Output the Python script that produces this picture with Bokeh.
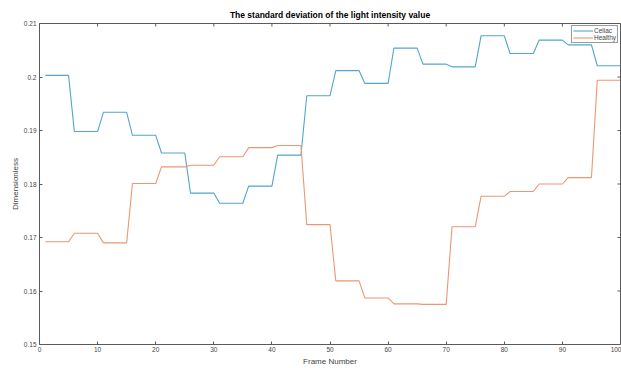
import math
from bokeh.plotting import figure
from bokeh.models import FixedTicker, CustomJSTickFormatter, Legend, LegendItem, Range1d
from bokeh.embed import file_html
from bokeh.resources import INLINE

title_text = "The standard deviation of the light intensity value"
x_label = "Frame Number"
y_label = "Dimensionless"
series_names = ["Celiac", "Healthy"]

frames = list(range(1, 101))

celiac = [
    0.2003, 0.2003, 0.2003, 0.2003, 0.2003,
    0.1898, 0.1898, 0.1898, 0.1898, 0.1898,
    0.1934, 0.1934, 0.1934, 0.1934, 0.1934,
    0.1891, 0.1891, 0.1891, 0.1891, 0.1891,
    0.1858, 0.1858, 0.1858, 0.1858, 0.1858,
    0.1783, 0.1783, 0.1783, 0.1783, 0.1783,
    0.1764, 0.1764, 0.1764, 0.1764, 0.1764,
    0.1796, 0.1796, 0.1796, 0.1796, 0.1796,
    0.1854, 0.1854, 0.1854, 0.1854, 0.1854,
    0.1965, 0.1965, 0.1965, 0.1965, 0.1965,
    0.2012, 0.2012, 0.2012, 0.2012, 0.2012,
    0.1988, 0.1988, 0.1988, 0.1988, 0.1988,
    0.2054, 0.2054, 0.2054, 0.2054, 0.2054,
    0.2024, 0.2024, 0.2024, 0.2024, 0.2024,
    0.2019, 0.2019, 0.2019, 0.2019, 0.2019,
    0.2077, 0.2077, 0.2077, 0.2077, 0.2077,
    0.2044, 0.2044, 0.2044, 0.2044, 0.2044,
    0.2069, 0.2069, 0.2069, 0.2069, 0.2069,
    0.2060, 0.2060, 0.2060, 0.2060, 0.2060,
    0.2021, 0.2021, 0.2021, 0.2021, 0.2021,
]

healthy = [
    0.1692, 0.1692, 0.1692, 0.1692, 0.1692,
    0.1708, 0.1708, 0.1708, 0.1708, 0.1708,
    0.1690, 0.1690, 0.1690, 0.1690, 0.1690,
    0.1801, 0.1801, 0.1801, 0.1801, 0.1801,
    0.1832, 0.1832, 0.1832, 0.1832, 0.1832,
    0.1835, 0.1835, 0.1835, 0.1835, 0.1835,
    0.1851, 0.1851, 0.1851, 0.1851, 0.1851,
    0.1868, 0.1868, 0.1868, 0.1868, 0.1868,
    0.1872, 0.1872, 0.1872, 0.1872, 0.1872,
    0.1724, 0.1724, 0.1724, 0.1724, 0.1724,
    0.1619, 0.1619, 0.1619, 0.1619, 0.1619,
    0.1587, 0.1587, 0.1587, 0.1587, 0.1587,
    0.1576, 0.1576, 0.1576, 0.1576, 0.1576,
    0.1575, 0.1575, 0.1575, 0.1575, 0.1575,
    0.1720, 0.1720, 0.1720, 0.1720, 0.1720,
    0.1777, 0.1777, 0.1777, 0.1777, 0.1777,
    0.1786, 0.1786, 0.1786, 0.1786, 0.1786,
    0.1800, 0.1800, 0.1800, 0.1800, 0.1800,
    0.1812, 0.1812, 0.1812, 0.1812, 0.1812,
    0.1994, 0.1994, 0.1994, 0.1994, 0.1994,
]

x_ticks = [0, 10, 20, 30, 40, 50, 60, 70, 80, 90, 100]
y_ticks = [0.15, 0.16, 0.17, 0.18, 0.19, 0.20, 0.21]

FONT = "Liberation Sans"
AX = "#5a5a5a"
BLUE = "#52a6cd"
ORANGE = "#ea9873"

X0, X1 = 0, 100
Y0, Y1 = 0.15, 0.21

p = figure(width=621, height=368, output_backend="svg", toolbar_location=None,
           x_range=Range1d(X0, X1), y_range=Range1d(Y0, Y1),
           min_border_left=39, min_border_right=1, min_border_top=23, min_border_bottom=24)

p.title.text = title_text
p.title.align = "center"
p.title.text_font = FONT
p.title.text_font_size = "8.5px"
p.title.text_font_style = "bold"
p.title.text_color = "black"
p.title.standoff = 7
p.title.offset = 0

p.outline_line_color = AX
p.outline_line_width = 1
p.xgrid.visible = False
p.ygrid.visible = False
p.background_fill_color = "white"
p.border_fill_color = "white"

xt = FixedTicker(ticks=x_ticks)
yt = FixedTicker(ticks=y_ticks)
yfmt = CustomJSTickFormatter(code="var s = tick.toFixed(2); if (s.endsWith('0')) { s = s.slice(0, -1); } return s;")

for ax in p.xaxis:
    ax.ticker = xt
    ax.axis_label = x_label
    ax.axis_label_text_font = FONT
    ax.axis_label_text_font_size = "8px"
    ax.axis_label_text_font_style = "normal"
    ax.axis_label_standoff = 2
    ax.major_label_text_font = FONT
    ax.major_label_text_font_size = "6.5px"
    ax.major_label_standoff = 2
    ax.major_tick_in = 3
    ax.major_tick_out = 0
    ax.minor_tick_in = 0
    ax.minor_tick_out = 0
    ax.axis_line_color = AX
    ax.major_tick_line_color = AX

for ax in p.yaxis:
    ax.ticker = yt
    ax.formatter = yfmt
    ax.axis_label = y_label
    ax.axis_label_text_font = FONT
    ax.axis_label_text_font_size = "8px"
    ax.axis_label_text_font_style = "normal"
    ax.axis_label_standoff = 1
    ax.major_label_text_font = FONT
    ax.major_label_text_font_size = "6.5px"
    ax.major_label_standoff = 3
    ax.major_label_orientation = "horizontal"
    ax.major_tick_in = 3
    ax.major_tick_out = 0
    ax.minor_tick_in = 0
    ax.minor_tick_out = 0
    ax.axis_line_color = AX
    ax.major_tick_line_color = AX

# inward ticks on the top and right edges of the box (MATLAB style)
p.ray(x=x_ticks, y=[Y1] * len(x_ticks), length=3, length_units="screen",
      angle=-math.pi / 2, line_color=AX, line_width=1)
p.ray(x=[X1] * len(y_ticks), y=y_ticks, length=3, length_units="screen",
      angle=math.pi, line_color=AX, line_width=1)

r1 = p.line(frames, celiac, line_color=BLUE, line_width=1.1)
r2 = p.line(frames, healthy, line_color=ORANGE, line_width=1.1)

legend = Legend(items=[LegendItem(label=series_names[0], renderers=[r1]),
                       LegendItem(label=series_names[1], renderers=[r2])],
                location="top_right")
legend.margin = 2
legend.padding = 1
legend.spacing = 0
legend.glyph_width = 20
legend.glyph_height = 7
legend.label_height = 7
legend.label_standoff = 1
legend.label_text_font = FONT
legend.label_text_font_size = "6.5px"
legend.border_line_color = "#333333"
legend.border_line_width = 0.8
legend.background_fill_alpha = 1
p.add_layout(legend)

open("out.html", "w").write(file_html(p, INLINE))
